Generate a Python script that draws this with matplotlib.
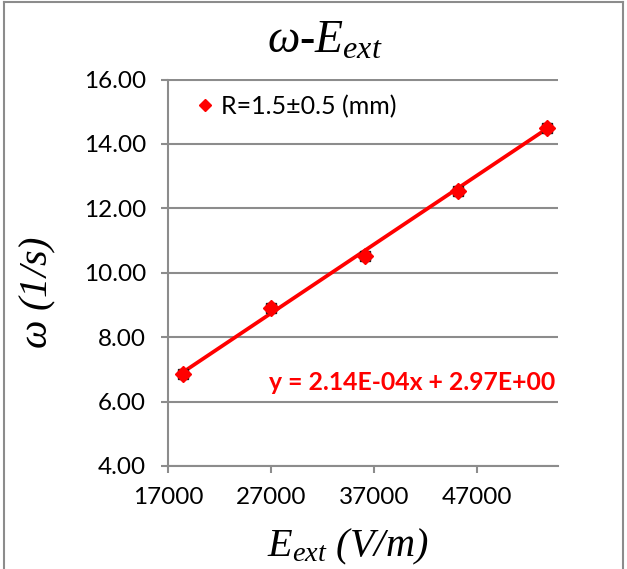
import matplotlib
matplotlib.use("Agg")
import matplotlib.pyplot as plt
import numpy as np
from matplotlib.lines import Line2D

# Measured angular velocity vs external field
e_ext = [18400, 27000, 36100, 45100, 53800]
omega = [6.85, 8.91, 10.53, 12.53, 14.49]
series_label = "R=1.5±0.5 (mm)"

# Linear trendline
slope = 2.14e-04
intercept = 2.97
eq_label = "y = 2.14E-04x + 2.97E+00"

x_ticks = [17000, 27000, 37000, 47000]
y_ticks = [4.00, 6.00, 8.00, 10.00, 12.00, 14.00, 16.00]

plt.rcParams["mathtext.fontset"] = "custom"
plt.rcParams["mathtext.it"] = "Liberation Serif:italic"
plt.rcParams["mathtext.rm"] = "Liberation Serif:italic"

W, H = 627, 569
fig = plt.figure(figsize=(W / 100, H / 100), dpi=100)
ax = fig.add_axes([168.3 / W, 1 - 466 / H, (557.7 - 168.3) / W, (466 - 79.5) / H])

grid_c = "#8c8c8c"
tick_font = dict(family="Lato", size=17.5)

ax.set_xlim(17000, 54800)
ax.set_ylim(4, 16)
ax.set_xticks(x_ticks)
ax.set_yticks(y_ticks)
ax.set_xticklabels([f"{v}" for v in x_ticks], fontdict=tick_font)
ax.set_yticklabels([f"{v:.2f}" for v in y_ticks], fontdict=tick_font)
ax.yaxis.grid(True, color=grid_c, linewidth=1.5)
ax.set_axisbelow(True)
for s in ("top", "right"):
    ax.spines[s].set_visible(False)
for s in ("left", "bottom"):
    ax.spines[s].set_color(grid_c)
    ax.spines[s].set_linewidth(1.5)
ax.tick_params(axis="both", colors=grid_c, width=1.5, length=5, labelcolor="black")
ax.tick_params(axis="x", pad=10)
ax.tick_params(axis="y", pad=11)

# trendline over the data range
xs = np.array([min(e_ext), max(e_ext)])
ax.plot(xs, slope * xs + intercept, color="#ff0000", linewidth=2.7, zorder=3,
        solid_capstyle="butt")

# data markers
ax.plot(e_ext, omega, linestyle="none", marker="s", markersize=7,
        color="#1a1a1a", zorder=4)
ax.plot(e_ext, omega, linestyle="none", marker="D", markersize=8,
        color="#ff0000", markeredgecolor="#ff0000", zorder=5)

# legend
handle = Line2D([], [], linestyle="none", marker="D", markersize=6.5,
                color="#ff0000")
leg = ax.legend([handle], [series_label], loc="upper left",
                bbox_to_anchor=(0.004, 1.012), frameon=False,
                prop=dict(family="Lato", size=18), handletextpad=0.05,
                borderaxespad=0.4, handlelength=1.2)

# trendline equation
fig.text(555 / W, 1 - 383 / H, eq_label, color="#ff0000", fontweight="bold",
         family="Lato", size=17.8, ha="right", va="center")

# titles
fig.text(325 / W, 1 - 41 / H, r"$\omega$-$E_{ext}$", family="Liberation Serif",
         style="italic", size=33, ha="center", va="center")
fig.text(348 / W, 1 - 547 / H, r"$E_{ext}$ (V/m)", family="Liberation Serif",
         style="italic", size=29, ha="center", va="center")
fig.text(38 / W, 1 - 292 / H, r"$\omega$ (1/s)", family="Liberation Serif",
         style="italic", size=29, ha="center", va="center", rotation=90)

# outer chart border
border_c = "#8c8c8c"
fig.add_artist(Line2D([4 / W, 4 / W], [0, 1 - 2 / H], color=border_c, lw=1.5,
                      transform=fig.transFigure))
fig.add_artist(Line2D([4 / W, 623 / W], [1 - 2 / H, 1 - 2 / H], color=border_c,
                      lw=1.5, transform=fig.transFigure))
fig.add_artist(Line2D([623 / W, 623 / W], [0, 1 - 2 / H], color=border_c, lw=1.5,
                      transform=fig.transFigure))

fig.savefig("out.png", dpi=100)
